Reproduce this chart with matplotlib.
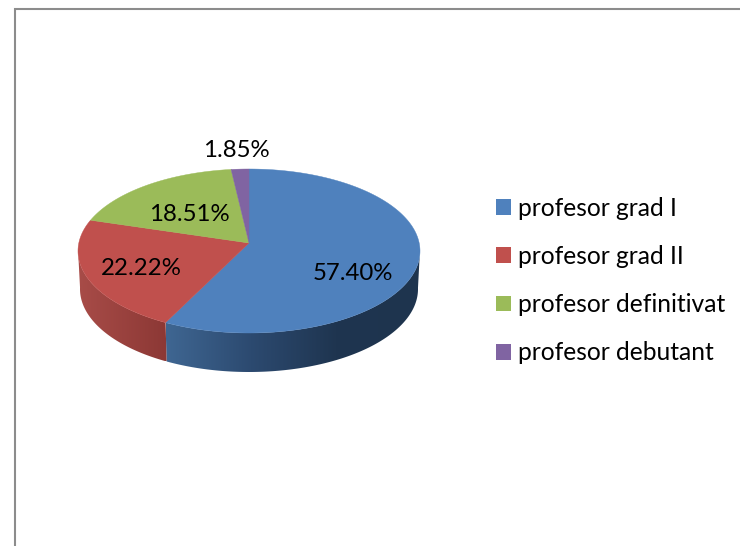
import numpy as np
import matplotlib
matplotlib.use("Agg")
import matplotlib.pyplot as plt
from matplotlib.patches import Patch, Polygon
from matplotlib.colors import LinearSegmentedColormap

categories = ["profesor grad I", "profesor grad II", "profesor definitivat", "profesor debutant"]
values = [57.40, 22.22, 18.51, 1.85]
labels = ["57.40%", "22.22%", "18.51%", "1.85%"]
colors = ["#4F81BD", "#C0504D", "#9BBB59", "#8064A2"]
label_xy = [(353, 273.5), (141, 268.5), (189, 214.5), (236, 150.5)]
side_ramps = [["#3F6692", "#2C4A70", "#1F3550", "#1E344E"], ["#A84C48", "#8C3835"]]

CX, CY, RX, RY = 249.0, 251.0, 171.0, 82.0
LOWER_RX, LOWER_CY, LOWER_RY = 169.0, 289.0, 83.0
APEX = -8.0 / RY

plt.rcParams["font.family"] = ["Lato", "DejaVu Sans"]
fig = plt.figure(figsize=(7.4, 5.46), dpi=100)
ax = fig.add_axes([0, 0, 1, 1])
ax.axis("off")


def rim(theta):
    """Unit-circle point hit from the off-centre apex at clockwise angle theta."""
    dx, dy = np.sin(theta), -np.cos(theta)
    b = APEX * dy
    t = -b + np.sqrt(b * b - (APEX ** 2 - 1))
    return t * dx, APEX + t * dy


fracs = np.array(values) / sum(values)
edges = np.concatenate([[0], np.cumsum(fracs)]) * 2 * np.pi

# side walls: horizontal gradient clipped to the visible wall of each slice
for i, ramp in enumerate(side_ramps):
    th = np.linspace(edges[i], edges[i + 1], 400)
    u, v = rim(th)
    keep = v >= -0.02
    u, v = u[keep], v[keep]
    top = np.c_[CX + RX * u, CY + RY * v]
    low = np.c_[CX + LOWER_RX * u, LOWER_CY + LOWER_RY * v]
    outline = np.vstack([top, low[::-1]])
    x0, x1 = outline[:, 0].min(), outline[:, 0].max()
    y0, y1 = outline[:, 1].min(), outline[:, 1].max()
    cmap = LinearSegmentedColormap.from_list("s", ramp)
    im = ax.imshow(np.linspace(0, 1, 256)[None, :], cmap=cmap, extent=(x0, x1, y1, y0),
                   aspect="auto", zorder=1.5, interpolation="bilinear")
    clip = Polygon(outline, closed=True, transform=ax.transData, facecolor="none", edgecolor="none")
    ax.add_patch(clip)
    im.set_clip_path(clip)

ax.set_xlim(0, 740)
ax.set_ylim(546, 0)

# top face
for i, c in enumerate(colors):
    th = np.linspace(edges[i], edges[i + 1], 200)
    u, v = rim(th)
    xs = np.r_[CX, CX + RX * u]
    ys = np.r_[CY + RY * APEX, CY + RY * v]
    ax.fill(xs, ys, facecolor=c, edgecolor=c, linewidth=0.3, zorder=3)

for (x, y), s in zip(label_xy, labels):
    ax.text(x, y, s, ha="center", va="center", fontsize=17.3, color="black", zorder=5)

# page frame
ax.plot([15, 15, 740], [546, 9, 9], color="#8C8C8C", linewidth=1.5, solid_joinstyle="miter", zorder=2)

handles = [Patch(facecolor=c, edgecolor="none") for c in colors]
ax.legend(handles, categories, loc="center left", bbox_to_anchor=(496, 280.5),
          bbox_transform=ax.transData, frameon=False, fontsize=17.7,
          handlelength=0.61, handleheight=0.61, handletextpad=0.285, labelspacing=1.03,
          borderpad=0, borderaxespad=0)

fig.savefig("out.png", dpi=100)
